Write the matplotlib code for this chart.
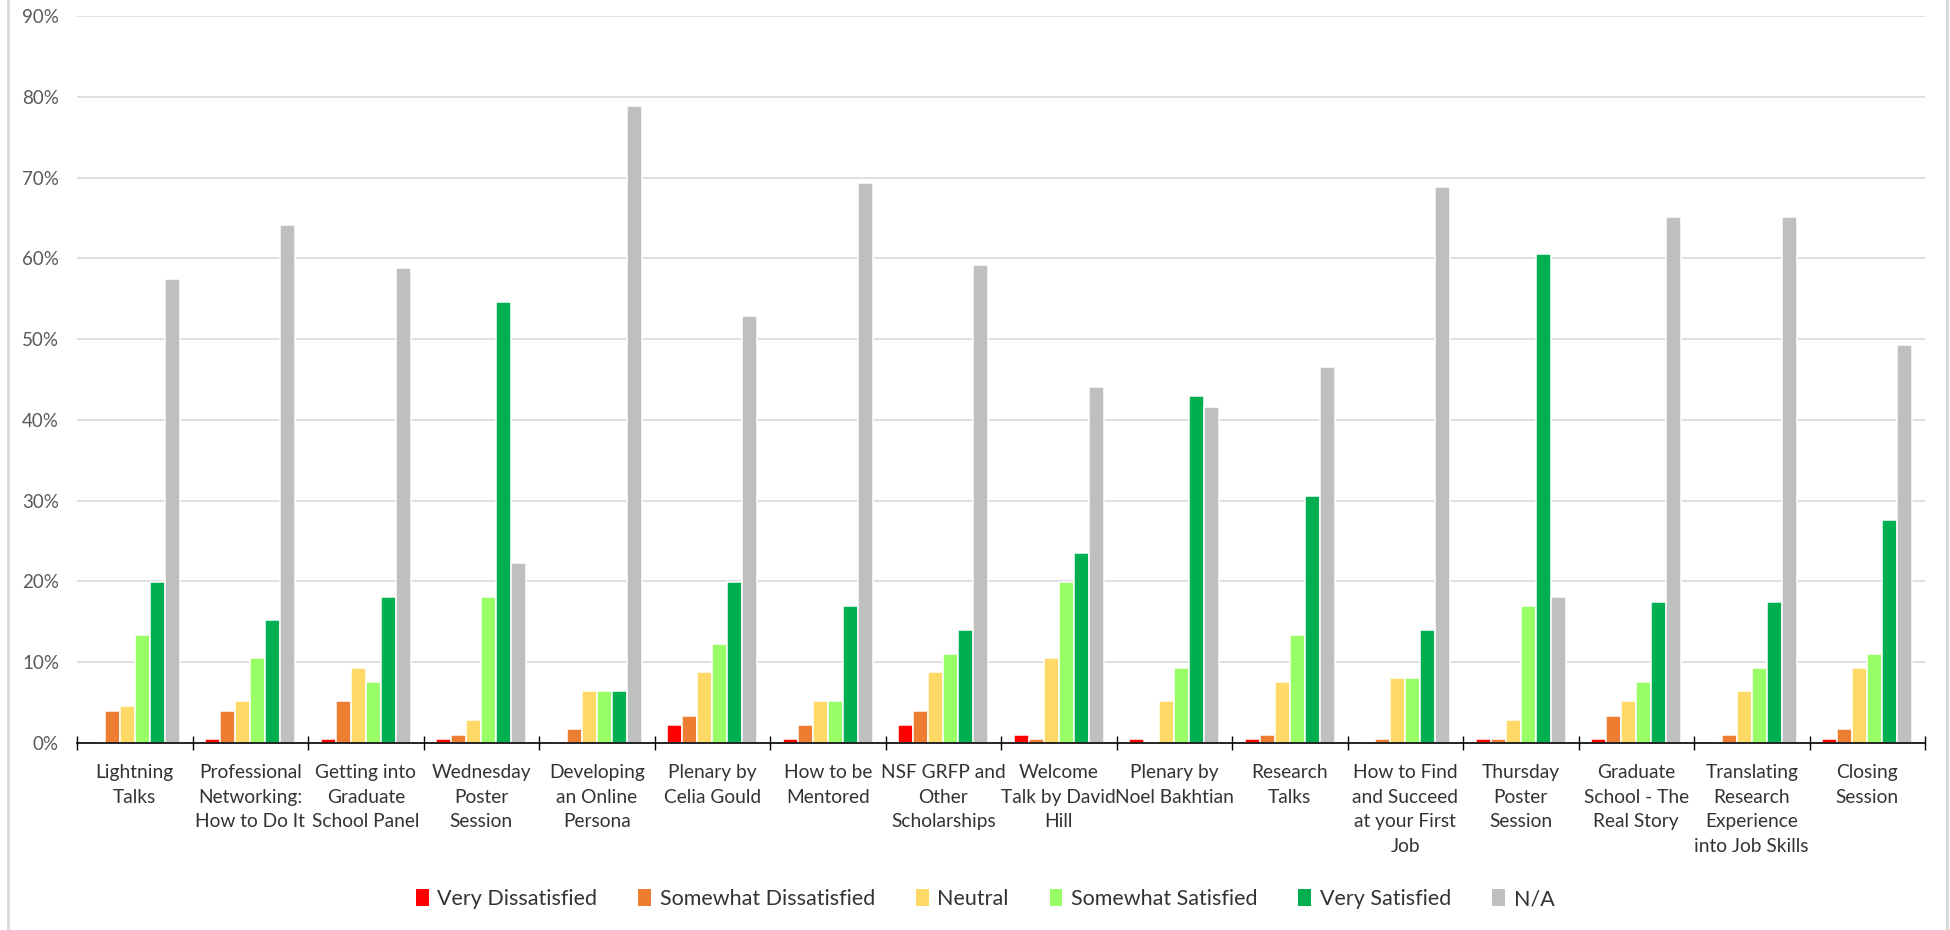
import matplotlib
matplotlib.use("Agg")
import matplotlib.pyplot as plt
from matplotlib.patches import Patch
from matplotlib.lines import Line2D
from matplotlib.ticker import PercentFormatter
import numpy as np

plt.rcParams['font.family'] = ['Lato', 'DejaVu Sans']

# session names (as wrapped in the original chart)
sessions = [
    "Lightning\nTalks",
    "Professional\nNetworking:\nHow to Do It",
    "Getting into\nGraduate\nSchool Panel",
    "Wednesday\nPoster\nSession",
    "Developing\nan Online\nPersona",
    "Plenary by\nCelia Gould",
    "How to be\nMentored",
    "NSF GRFP and\nOther\nScholarships",
    "Welcome\nTalk by David\nHill",
    "Plenary by\nNoel Bakhtian",
    "Research\nTalks",
    "How to Find\nand Succeed\nat your First\nJob",
    "Thursday\nPoster\nSession",
    "Graduate\nSchool - The\nReal Story",
    "Translating\nResearch\nExperience\ninto Job Skills",
    "Closing\nSession",
]

# percent of respondents per rating
very_dissatisfied = [0.0, 0.5, 0.5, 0.5, 0.0, 2.2, 0.5, 2.2, 1.0, 0.5, 0.5, 0.0, 0.5, 0.5, 0.0, 0.5]
somewhat_dissatisfied = [4.0, 4.0, 5.2, 1.0, 1.7, 3.4, 2.2, 4.0, 0.5, 0.0, 1.0, 0.5, 0.5, 3.4, 1.0, 1.7]
neutral = [4.6, 5.2, 9.3, 2.9, 6.4, 8.8, 5.2, 8.8, 10.5, 5.2, 7.6, 8.1, 2.9, 5.2, 6.4, 9.3]
somewhat_satisfied = [13.4, 10.5, 7.6, 18.1, 6.4, 12.2, 5.2, 11.0, 19.9, 9.3, 13.4, 8.1, 16.9, 7.6, 9.3, 11.0]
very_satisfied = [19.9, 15.2, 18.1, 54.6, 6.4, 19.9, 16.9, 14.0, 23.5, 42.9, 30.6, 14.0, 60.5, 17.5, 17.5, 27.6]
not_applicable = [57.5, 64.1, 58.8, 22.3, 78.8, 52.8, 69.3, 59.2, 44.1, 41.6, 46.5, 68.8, 18.1, 65.1, 65.1, 49.3]

series_names = ["Very Dissatisfied", "Somewhat Dissatisfied", "Neutral",
                "Somewhat Satisfied", "Very Satisfied", "N/A"]
series = [very_dissatisfied, somewhat_dissatisfied, neutral,
          somewhat_satisfied, very_satisfied, not_applicable]
colors = ["#FF0000", "#ED7D31", "#FFD966", "#99FF66", "#00B050", "#BFBFBF"]

fig = plt.figure(figsize=(19.5, 9.3), dpi=100)
ax = fig.add_axes([77 / 1950, 1 - 743 / 930, (1925 - 77) / 1950, (743 - 16) / 930])

x = np.arange(len(sessions))
w = 0.13
for j, (vals, c) in enumerate(zip(series, colors)):
    ax.bar(x + (j - 2.5) * w, vals, w, color=c, edgecolor="white", linewidth=1.1, zorder=3)

ax.set_xlim(-0.5, len(sessions) - 0.5)
ax.set_ylim(0, 90)
ax.set_yticks(np.arange(0, 91, 10))
ax.yaxis.set_major_formatter(PercentFormatter(decimals=0))
ax.grid(axis="y", color="#D9D9D9", linewidth=1.2, zorder=0)
ax.tick_params(axis="y", length=0, labelsize=13.5, labelcolor="#595959", pad=13)

ax.set_xticks(x)
ax.set_xticklabels(sessions, fontsize=13.8, color="#333333", linespacing=1.55)
ax.set_xticks(np.arange(-0.5, len(sessions)), minor=True)
ax.tick_params(axis="x", which="major", length=0, pad=15)
ax.tick_params(axis="x", which="minor", direction="inout", length=9.5, width=1, color="black")

for s in ["top", "right", "left"]:
    ax.spines[s].set_visible(False)
ax.spines["bottom"].set_color("black")
ax.spines["bottom"].set_linewidth(1.2)
ax.spines["bottom"].set_zorder(4)

handles = [Patch(facecolor=c, edgecolor="none") for c in colors]
fig.legend(handles, series_names, loc="center", bbox_to_anchor=(985 / 1950, 1 - 899 / 930),
           ncol=6, frameon=False, fontsize=15.5, handlelength=0.6, handleheight=0.8,
           handletextpad=0.4, columnspacing=1.9, labelcolor="#333333")

# light chart border on left and right
fig.add_artist(Line2D([8 / 1950, 8 / 1950], [0, 1], color="#D9D9D9", linewidth=2))
fig.add_artist(Line2D([1947 / 1950, 1947 / 1950], [0, 1], color="#D9D9D9", linewidth=2))

fig.savefig("out.png", dpi=100)
